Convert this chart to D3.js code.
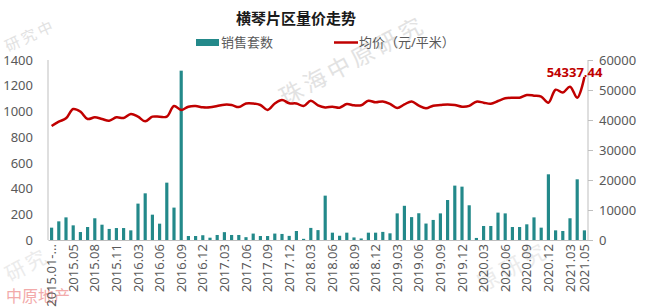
<!DOCTYPE html>
<html>
<head>
<meta charset="utf-8">
<script src="https://cdn.jsdelivr.net/npm/d3@7"></script>
<style>
  body { margin: 0; background: #fff; }
  svg text { font-family: "Noto Sans", "Noto Sans CJK SC", sans-serif; }
</style>
</head>
<body>
<svg id="chart" width="650" height="307"></svg>
<script>
// categories (first and the 2016 spring festival months are merged)
var months = [
  "2015.01-02","2015.03","2015.04","2015.05","2015.06","2015.07","2015.08","2015.09","2015.10","2015.11","2015.12",
  "2016.01-02","2016.03","2016.04","2016.05","2016.06","2016.07","2016.08","2016.09","2016.10","2016.11","2016.12",
  "2017.01","2017.02","2017.03","2017.04","2017.05","2017.06","2017.07","2017.08","2017.09","2017.10","2017.11","2017.12",
  "2018.01","2018.02","2018.03","2018.04","2018.05","2018.06","2018.07","2018.08","2018.09","2018.10","2018.11","2018.12",
  "2019.01","2019.02","2019.03","2019.04","2019.05","2019.06","2019.07","2019.08","2019.09","2019.10","2019.11","2019.12",
  "2020.01","2020.02","2020.03","2020.04","2020.05","2020.06","2020.07","2020.08","2020.09","2020.10","2020.11","2020.12",
  "2021.01","2021.02","2021.03","2021.04","2021.05"
];

// 销售套数
var sales = [
  96,145,176,114,62,101,169,119,86,93,93,
  75,283,363,197,127,446,252,1317,31,31,37,
  18,39,61,39,39,22,50,31,31,50,47,32,
  70,9,94,77,345,57,33,57,20,12,57,57,
  63,52,207,266,178,208,128,156,207,311,423,415,
  270,16,109,109,213,207,101,101,122,176,96,511,
  75,70,169,472,75
];

// 均价（元/平米）
var price = [
  38000,39440,40550,43670,42780,40330,40900,40330,39780,40900,40670,
  42000,41110,39560,41110,41110,41110,44670,43330,44440,44670,44220,
  44220,44670,45100,45000,44300,45500,45500,45000,43330,45500,46670,45600,
  45500,44670,46440,44900,44200,44440,44110,45300,44900,44900,46440,45900,
  46200,45400,44000,45200,46200,44800,43900,44780,45000,45200,45000,44440,
  44700,46110,45780,45440,46330,47220,47440,47440,48330,48110,47780,45780,
  50100,49150,51110,47440,54337.44
];

var shownTicks = ["2015.01-02","2015.05","2015.08","2015.11","2016.03","2016.06","2016.09","2016.12",
  "2017.03","2017.06","2017.09","2017.12","2018.03","2018.06","2018.09","2018.12",
  "2019.03","2019.06","2019.09","2019.12","2020.03","2020.06","2020.09","2020.12","2021.03","2021.05"];

var leftTicks = [0,200,400,600,800,1000,1200,1400];
var rightTicks = [0,10000,20000,30000,40000,50000,60000];

var barColor = "#23898a", lineColor = "#c00000", axisColor = "#bfbfbf", labelColor = "#595959";

var svg = d3.select("#chart");
var plot = {left: 48, right: 588, top: 60, bottom: 240};

var x = d3.scaleBand().domain(months).range([plot.left, plot.right]).paddingInner(0.56).paddingOuter(0.28);
var yL = d3.scaleLinear().domain([0, 1400]).range([plot.bottom, plot.top]);
var yR = d3.scaleLinear().domain([0, 60000]).range([plot.bottom, plot.top]);

//watermarks, kept faint
var wm = svg.append("g").attr("class", "watermark")
  .style("font-family", "'Noto Sans CJK SC', sans-serif");
wm.append("text").attr("transform", "translate(285,106) rotate(-28)")
  .attr("font-size", 23).attr("fill", "#e2e2e2").attr("letter-spacing", 4).text("珠海中原研究");
wm.append("text").attr("transform", "translate(8,52) rotate(-25)")
  .attr("font-size", 15).attr("fill", "#e2e2e2").attr("letter-spacing", 3).text("研究中");
wm.append("text").attr("transform", "translate(482,292) rotate(-28)")
  .attr("font-size", 22).attr("fill", "#ebebeb").attr("letter-spacing", 4).text("原研究");
wm.append("text").attr("transform", "translate(10,282) rotate(-28)")
  .attr("font-size", 20).attr("fill", "#ebebeb").attr("letter-spacing", 3).text("研究");
wm.append("text").attr("x", 6).attr("y", 302)
  .attr("font-size", 16).attr("fill", "#f2aaaa").text("中原地产");

// title + legend
svg.append("text").attr("x", 296).attr("y", 24).attr("text-anchor", "middle")
  .attr("font-size", 15).attr("font-weight", "bold").attr("fill", "#1a1a1a")
  .style("font-family", "'Noto Sans CJK SC', sans-serif")
  .text("横琴片区量价走势");

var legend = svg.append("g").style("font-family", "'Noto Sans CJK SC', sans-serif");
legend.append("rect").attr("x", 196).attr("y", 39).attr("width", 23).attr("height", 7).attr("fill", barColor);
legend.append("text").attr("x", 221).attr("y", 47).attr("font-size", 13).attr("fill", labelColor).text("销售套数");
legend.append("line").attr("x1", 334).attr("x2", 358).attr("y1", 42.5).attr("y2", 42.5)
  .attr("stroke", lineColor).attr("stroke-width", 2.5);
legend.append("text").attr("x", 359).attr("y", 47).attr("font-size", 13).attr("fill", labelColor).text("均价（元/平米）");

// bars
svg.append("g").selectAll("rect")
  .data(sales)
  .enter().append("rect")
    .attr("x", function(d, i) { return x(months[i]); })
    .attr("y", function(d) { return yL(d); })
    .attr("width", x.bandwidth())
    .attr("height", function(d) { return yL(0) - yL(d); })
    .attr("fill", barColor);

// axes
var leftAxis = svg.append("g")
  .attr("transform", "translate(" + plot.left + ",0)")
  .call(d3.axisLeft(yL).tickValues(leftTicks).tickSize(0).tickPadding(15).tickFormat(d3.format("d")));
var rightAxis = svg.append("g")
  .attr("transform", "translate(" + plot.right + ",0)")
  .call(d3.axisRight(yR).tickValues(rightTicks).tickSize(5).tickPadding(6).tickFormat(d3.format("d")));
var bottomAxis = svg.append("g")
  .attr("transform", "translate(0," + plot.bottom + ")")
  .call(d3.axisBottom(x).tickValues(shownTicks).tickSize(0).tickPadding(4)
    .tickFormat(function(d) { return d.length > 8 ? d.substring(0, 8) + "..." : d; }));

[leftAxis, rightAxis, bottomAxis].forEach(function(a) {
  a.select(".domain").attr("stroke", axisColor);
  a.selectAll(".tick line").attr("stroke", axisColor);
  a.selectAll("text").attr("fill", labelColor).attr("font-size", 13)
    .style("font-family", "'Noto Sans', sans-serif");
});
leftAxis.select(".domain").attr("d", "M0," + plot.top + "V" + plot.bottom);
rightAxis.select(".domain").attr("d", "M0," + plot.top + "V" + plot.bottom);
bottomAxis.selectAll("text")
  .attr("transform", "rotate(-90)")
  .attr("text-anchor", "end")
  .attr("x", -4).attr("y", 0).attr("dy", "0.35em");

// price line
var line = d3.line()
  .x(function(d, i) { return x(months[i]) + x.bandwidth() / 2; })
  .y(function(d) { return yR(d); })
  .curve(d3.curveCatmullRom.alpha(0.5));

svg.append("path")
  .datum(price)
  .attr("fill", "none")
  .attr("stroke", lineColor)
  .attr("stroke-width", 2.5)
  .attr("stroke-linejoin", "round")
  .attr("d", line);

// last value label
var last = price.length - 1;
svg.append("text")
  .attr("x", x(months[last]) + x.bandwidth() / 2 + 18)
  .attr("y", yR(price[last]))
  .attr("text-anchor", "end")
  .attr("font-size", 13).attr("font-weight", "bold").attr("fill", lineColor)
  .style("font-family", "'Noto Sans', sans-serif")
  .text(d3.format(".2f")(price[last]));
</script>
</body>
</html>
